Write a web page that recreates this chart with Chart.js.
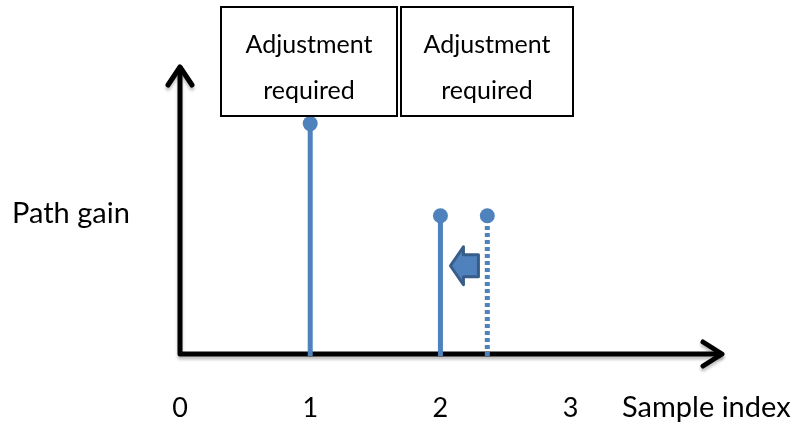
<!DOCTYPE html>
<html>
<head>
<meta charset="utf-8">
<script src="https://cdn.jsdelivr.net/npm/chart.js@4"></script>
<style>
  html, body { margin: 0; padding: 0; background: #fff; }
  #wrap { width: 796px; height: 426px; }
</style>
</head>
<body>
<div id="wrap"><canvas id="chart"></canvas></div>
<script>
// sample positions and path gains
const sampleIndex = [1, 2];
const pathGain = [0.8, 0.48];
const shiftedIndex = [2.36];
const shiftedGain = [0.48];
const tickValues = [0, 1, 2, 3];
const boxText = ["Adjustment", "required"];

const BLUE = "#4f81bd";
const FONT = "Lato, 'Open Sans', sans-serif";

const toPoints = (xs, ys) => xs.map((x, i) => ({ x, y: ys[i] }));

const stemPlugin = {
  id: "stems",
  beforeDatasetsDraw(chart) {
    const { ctx, scales: { x, y } } = chart;
    const x0 = x.getPixelForValue(0), y0 = y.getPixelForValue(0);
    const yTop = y.getPixelForValue(y.max), xEnd = x.getPixelForValue(x.max);

    // axes with arrow heads
    ctx.save();
    ctx.strokeStyle = "#000";
    ctx.lineWidth = 5;
    ctx.lineCap = "round";
    ctx.lineJoin = "round";
    ctx.shadowColor = "rgba(0,0,0,0.25)";
    ctx.shadowOffsetY = 3;
    ctx.shadowBlur = 3;
    ctx.beginPath();
    ctx.moveTo(x0, yTop + 2);
    ctx.lineTo(x0, y0);
    ctx.lineTo(xEnd - 2, y0);
    ctx.stroke();
    ctx.beginPath();
    ctx.moveTo(x0 - 12, yTop + 19);
    ctx.lineTo(x0, yTop + 1);
    ctx.lineTo(x0 + 12, yTop + 19);
    ctx.stroke();
    ctx.beginPath();
    ctx.moveTo(xEnd - 20, y0 - 12);
    ctx.lineTo(xEnd - 1, y0);
    ctx.lineTo(xEnd - 20, y0 + 12);
    ctx.stroke();
    ctx.restore();

    // stems
    ctx.save();
    ctx.strokeStyle = BLUE;
    ctx.lineWidth = 5;
    chart.data.datasets.forEach(ds => {
      ctx.setLineDash(ds.stemDash || []);
      ds.data.forEach(p => {
        const px = x.getPixelForValue(p.x);
        ctx.beginPath();
        ctx.moveTo(px, y0 + 2);
        ctx.lineTo(px, y.getPixelForValue(p.y));
        ctx.stroke();
      });
    });
    ctx.restore();
  },
  afterDatasetsDraw(chart) {
    const { ctx, scales: { x, y } } = chart;
    const y0 = y.getPixelForValue(0);

    ctx.save();
    ctx.fillStyle = "#000";
    ctx.textBaseline = "middle";
    ctx.textAlign = "center";
    ctx.font = "27px " + FONT;
    tickValues.forEach(v => ctx.fillText(String(v), x.getPixelForValue(v), y0 + 54));
    ctx.textAlign = "left";
    ctx.font = "29px " + FONT;
    ctx.fillText("Sample index", 622, y0 + 54);
    ctx.fillText("Path gain", 12, 214);

    // annotation boxes
    ctx.font = "25px " + FONT;
    ctx.lineWidth = 2;
    ctx.strokeStyle = "#000";
    [[221, 176], [401, 172]].forEach(([bx, bw]) => {
      ctx.strokeRect(bx, 7, bw, 109);
      ctx.textAlign = "center";
      ctx.fillText(boxText[0], bx + bw / 2, 45);
      ctx.fillText(boxText[1], bx + bw / 2, 91);
    });

    // left pointing block arrow between the stems
    const tip = x.getPixelForValue(sampleIndex[1]) + 10;
    const cy = y.getPixelForValue(shiftedGain[0]) + 50;
    ctx.beginPath();
    ctx.moveTo(tip, cy);
    ctx.lineTo(tip + 13, cy - 19);
    ctx.lineTo(tip + 13, cy - 11);
    ctx.lineTo(tip + 28, cy - 11);
    ctx.lineTo(tip + 28, cy + 11);
    ctx.lineTo(tip + 13, cy + 11);
    ctx.lineTo(tip + 13, cy + 19);
    ctx.closePath();
    ctx.fillStyle = BLUE;
    ctx.fill();
    ctx.lineWidth = 3;
    ctx.lineJoin = "round";
    ctx.strokeStyle = "#385d8a";
    ctx.stroke();
    ctx.restore();
  }
};

new Chart(document.getElementById("chart"), {
  type: "scatter",
  data: {
    datasets: [
      { data: toPoints(sampleIndex, pathGain), backgroundColor: BLUE, borderWidth: 0, pointRadius: 7.5 },
      { data: toPoints(shiftedIndex, shiftedGain), backgroundColor: BLUE, borderWidth: 0, pointRadius: 7.5, stemDash: [4, 3] }
    ]
  },
  options: {
    responsive: true,
    maintainAspectRatio: false,
    animation: false,
    events: [],
    layout: { padding: { left: 180, right: 73, top: 66, bottom: 72 } },
    plugins: { legend: { display: false }, tooltip: { enabled: false } },
    scales: {
      x: { type: "linear", display: false, min: 0, max: 4.17 },
      y: { type: "linear", display: false, min: 0, max: 1 }
    }
  },
  plugins: [stemPlugin]
});
</script>
</body>
</html>
